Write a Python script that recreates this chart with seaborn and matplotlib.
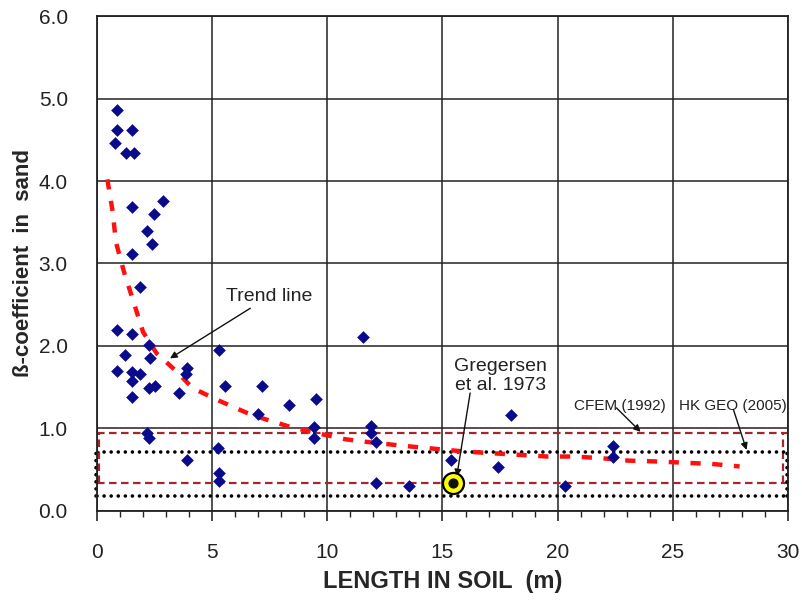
import matplotlib
matplotlib.use('Agg')
import matplotlib.pyplot as plt
import seaborn as sns
import pandas as pd

# measured beta values (length in soil, beta)
length_m = [0.88, 0.88, 1.50, 0.80, 1.26, 1.62, 2.88, 1.50, 2.48, 2.18, 2.39, 1.50, 1.87,
            0.88, 1.53, 2.26, 1.20, 2.32, 0.88, 1.53, 1.87, 1.53, 2.24, 2.53, 1.53, 3.57,
            3.91, 3.86, 5.30, 5.56, 7.15, 7.00, 8.35, 9.49, 9.42, 9.42, 2.18, 2.26, 3.91,
            5.25, 5.31, 5.28, 11.57, 11.90, 11.90, 12.11, 12.11, 13.55, 15.36, 17.43,
            17.98, 20.32, 22.39, 22.39]
beta = [4.86, 4.62, 4.62, 4.46, 4.34, 4.34, 3.76, 3.68, 3.60, 3.39, 3.24, 3.12, 2.72,
        2.19, 2.15, 2.01, 1.89, 1.85, 1.70, 1.68, 1.66, 1.58, 1.49, 1.52, 1.38, 1.43,
        1.73, 1.66, 1.95, 1.52, 1.52, 1.18, 1.28, 1.36, 1.02, 0.88, 0.94, 0.88, 0.62,
        0.76, 0.46, 0.36, 2.11, 1.03, 0.95, 0.84, 0.34, 0.30, 0.62, 0.53,
        1.16, 0.30, 0.79, 0.65]

# Gregersen et al. 1973
greg_x = [15.47]
greg_y = [0.34]

# trend line
trend_x = [0.45, 0.68, 0.82, 1.17, 1.58, 2.00, 2.59, 3.46, 4.15, 5.27, 6.50, 7.22, 8.38,
           9.61, 10.77, 11.93, 13.30, 14.82, 15.98, 17.16, 18.37, 19.55, 20.70, 21.90,
           23.10, 24.30, 25.50, 26.70, 27.90]
trend_y = [4.02, 3.63, 3.26, 2.90, 2.54, 2.17, 1.91, 1.69, 1.49, 1.34, 1.19, 1.12, 1.02,
           0.94, 0.87, 0.83, 0.79, 0.75, 0.72, 0.70, 0.68, 0.66, 0.66, 0.64,
           0.61, 0.60, 0.585, 0.57, 0.54]

# recommended ranges
cfem_range = [0.34, 0.95]
cfem_x = [0.08, 29.8]
hkgeo_range = [0.18, 0.71]
hkgeo_x = [-0.05, 29.95]

sns.set_style("white")
plt.rcParams['font.family'] = ['Liberation Sans', 'DejaVu Sans']

fig, ax = plt.subplots(figsize=(8.03, 6.02), dpi=100)
fig.subplots_adjust(left=0.1208, right=0.9813, top=0.9734, bottom=0.1512)

# CFEM range box (dashed dark red)
for yv in cfem_range:
    ax.axhline(yv, color='#a3282c', lw=1.6, dashes=(3.4, 2.0), zorder=2)
for xv in cfem_x:
    ax.plot([xv, xv], cfem_range, color='#a3282c', lw=1.6, dashes=(3.4, 2.0),
            zorder=2, clip_on=False)

# HK GEO range box (black dots)
for yv in hkgeo_range:
    ax.axhline(yv, color='black', lw=2.6, dashes=(0.01, 1.95), dash_capstyle='round', zorder=2)
for xv in hkgeo_x:
    ax.plot([xv, xv], hkgeo_range, color='black', lw=2.6, dashes=(0.01, 1.95),
            dash_capstyle='round', zorder=2, clip_on=False)

trend = pd.DataFrame({'x': trend_x, 'y': trend_y})
sns.lineplot(data=trend, x='x', y='y', sort=False, color='#ff1010', lw=3.2,
             ax=ax, zorder=3, estimator=None)
ax.lines[-1].set_dashes((2.3, 2.6))

pts = pd.DataFrame({'x': length_m, 'y': beta})
sns.scatterplot(data=pts, x='x', y='y', marker='D', s=42, color='#0a0a8c',
                edgecolor='#0a0a8c', linewidth=0, ax=ax, zorder=4)

ax.scatter(greg_x, greg_y, s=230, color='#ffff00', edgecolor='black', linewidth=1.6, zorder=5)
ax.scatter(greg_x, greg_y, s=40, marker='o', color='#111111', zorder=6)

ax.set_xlim(0, 30)
ax.set_ylim(0, 6)
ax.set_xticks(range(0, 31, 5))
ax.set_xticks(range(0, 31, 1), minor=True)
ax.set_yticks([0, 1, 2, 3, 4, 5, 6])
ax.set_yticklabels([f'{v:.1f}' for v in range(7)], fontsize=15, color='#222222')
ax.set_xticklabels([str(v) for v in range(0, 31, 5)], fontsize=15, color='#222222')
ax.tick_params(axis='x', which='major', direction='out', length=7, width=1.2, pad=16, bottom=True)
ax.tick_params(axis='x', which='minor', direction='out', length=4, width=1.0, bottom=True)
ax.tick_params(axis='y', which='major', length=0, pad=21, left=True)

ax.grid(True, which='major', color='#222222', lw=1.1)
for sp in ax.spines.values():
    sp.set_color('#222222')
    sp.set_linewidth(1.3)

ax.set_xlabel('LENGTH IN SOIL  (m)', fontsize=17, fontweight='bold', labelpad=6)
ax.set_ylabel('ß-coefficient  in  sand', fontsize=16, fontweight='bold', labelpad=3)

arrow = dict(arrowstyle='-|>', color='#111111', lw=1.0, mutation_scale=10, shrinkA=0, shrinkB=0)
ax.annotate('Trend line', xy=(3.17, 1.85), xytext=(5.6, 2.6), fontsize=14,
            color='#222222', va='center', ha='left', arrowprops=arrow)
ax.annotate('Gregersen\net al. 1973', xy=(15.62, 0.42), xytext=(17.5, 1.64), fontsize=14,
            color='#222222', ha='center', va='center', linespacing=1.15)
ax.annotate('', xy=(15.62, 0.42), xytext=(16.2, 1.43), arrowprops=arrow)
ax.annotate('CFEM (1992)', xy=(23.6, 0.96), xytext=(22.7, 1.27), fontsize=11,
            color='#222222', ha='center', va='center')
ax.annotate('', xy=(23.6, 0.96), xytext=(22.55, 1.25), arrowprops=arrow)
ax.annotate('HK GEO (2005)', xy=(28.2, 0.74), xytext=(27.6, 1.27), fontsize=11,
            color='#222222', ha='center', va='center')
ax.annotate('', xy=(28.2, 0.74), xytext=(27.63, 1.23), arrowprops=arrow)

fig.savefig('out.png', dpi=100)
